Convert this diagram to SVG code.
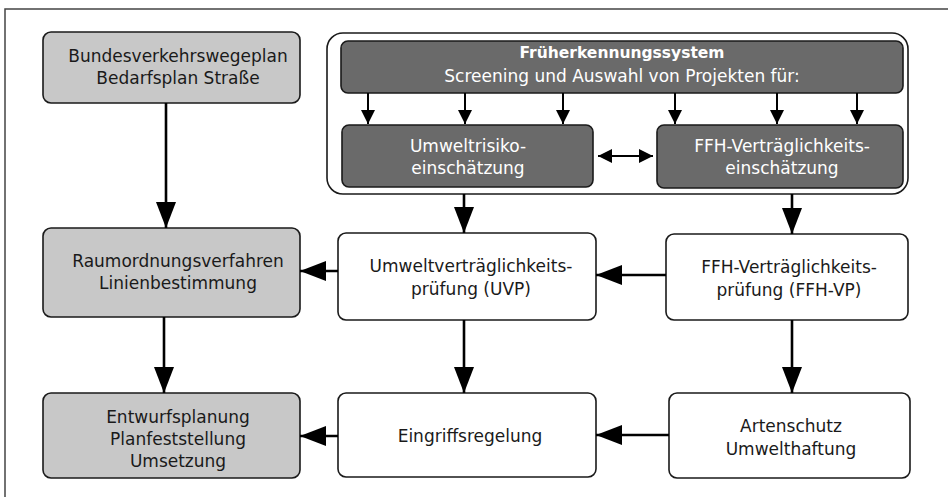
<svg xmlns="http://www.w3.org/2000/svg" width="948" height="497" viewBox="0 0 948 497">
<defs>
<style>
text{font-family:"DejaVu Sans","Liberation Sans",sans-serif;font-size:17px;text-anchor:middle;fill:#1a1a1a}
.lt{fill:#c8c8c8;stroke:#1a1a1a;stroke-width:1.6}
.wh{fill:#fff;stroke:#1a1a1a;stroke-width:1.6}
.dk{fill:#6a6a6a;stroke:#1a1a1a;stroke-width:1.6}
.dk-t{fill:#fff}
.b{font-weight:bold;font-size:15.5px}
.big{stroke:#000;stroke-width:2.6;fill:none;marker-end:url(#ab)}
.sm{stroke:#000;stroke-width:2;fill:none;marker-end:url(#as)}
</style>
<marker id="ab" markerUnits="userSpaceOnUse" markerWidth="26" markerHeight="20" refX="26" refY="10" orient="auto"><path d="M0,0 L26,10 L0,20 z" fill="#000"/></marker>
<marker id="as" markerUnits="userSpaceOnUse" markerWidth="14" markerHeight="14" refX="14" refY="7" orient="auto"><path d="M0,0 L14,7 L0,14 z" fill="#000"/></marker>
<marker id="as2" markerUnits="userSpaceOnUse" markerWidth="14" markerHeight="14" refX="0" refY="7" orient="auto"><path d="M14,0 L0,7 L14,14 z" fill="#000"/></marker>
</defs>
<rect x="5" y="9" width="960" height="500" fill="#fff" stroke="#444" stroke-width="1.5"/>

<g id="container"><rect x="327" y="33" width="581" height="161" rx="16" fill="#fff" stroke="#1a1a1a" stroke-width="1.6"/></g>

<g id="fruehwarn">
<rect class="dk" x="341" y="41" width="562" height="52" rx="7"/>
<text class="dk-t b" x="622" y="58">Früherkennungssystem</text>
<text class="dk-t" x="622" y="82">Screening und Auswahl von Projekten für:</text>
</g>
<g id="umweltrisiko">
<rect class="dk" x="342" y="125" width="251" height="62" rx="7"/>
<text class="dk-t" x="468" y="152">Umweltrisiko-</text>
<text class="dk-t" x="468" y="174">einschätzung</text>
</g>
<g id="ffh-einsch">
<rect class="dk" x="657" y="125" width="246" height="63" rx="7"/>
<text class="dk-t" x="782" y="152">FFH-Verträglichkeits-</text>
<text class="dk-t" x="782" y="174">einschätzung</text>
</g>

<g id="bvwp">
<rect class="lt" x="43" y="32" width="257" height="71" rx="8"/>
<text x="178" y="62">Bundesverkehrswegeplan</text>
<text x="178" y="84">Bedarfsplan Straße</text>
</g>
<g id="raumordnung">
<rect class="lt" x="43" y="228" width="257" height="89" rx="8"/>
<text x="178" y="267">Raumordnungsverfahren</text>
<text x="178" y="289">Linienbestimmung</text>
</g>
<g id="entwurf">
<rect class="lt" x="43" y="393" width="257" height="85" rx="8"/>
<text x="178" y="423">Entwurfsplanung</text>
<text x="178" y="445">Planfeststellung</text>
<text x="178" y="467">Umsetzung</text>
</g>
<g id="uvp">
<rect class="wh" x="338" y="233" width="258" height="87" rx="8"/>
<text x="471" y="272">Umweltverträglichkeits-</text>
<text x="471" y="295">prüfung (UVP)</text>
</g>
<g id="ffhvp">
<rect class="wh" x="666" y="234" width="242" height="86" rx="8"/>
<text x="789" y="273">FFH-Verträglichkeits-</text>
<text x="789" y="296">prüfung (FFH-VP)</text>
</g>
<g id="eingriff">
<rect class="wh" x="338" y="393" width="258" height="84" rx="8"/>
<text x="470" y="442">Eingriffsregelung</text>
</g>
<g id="artenschutz">
<rect class="wh" x="669" y="393" width="241" height="85" rx="8"/>
<text x="791" y="432">Artenschutz</text>
<text x="791" y="455">Umwelthaftung</text>
</g>

<g id="connectors">
<path class="big" d="M166,103 V228"/>
<path class="big" d="M164,317 V393"/>
<path class="big" d="M338,271 H300"/>
<path class="big" d="M338,436 H300"/>
<path class="big" d="M666,275 H596"/>
<path class="big" d="M669,435 H596"/>
<path class="big" d="M464,194 V233"/>
<path class="big" d="M792,194 V234"/>
<path class="big" d="M464,320 V393"/>
<path class="big" d="M792,320 V393"/>
<path class="sm" d="M368,93 V124"/>
<path class="sm" d="M465,93 V124"/>
<path class="sm" d="M563,93 V124"/>
<path class="sm" d="M675,93 V124"/>
<path class="sm" d="M777,93 V124"/>
<path class="sm" d="M857,93 V124"/>
<path d="M598,156 H653" stroke="#000" stroke-width="2" fill="none" marker-start="url(#as2)" marker-end="url(#as)"/>
</g>
</svg>
